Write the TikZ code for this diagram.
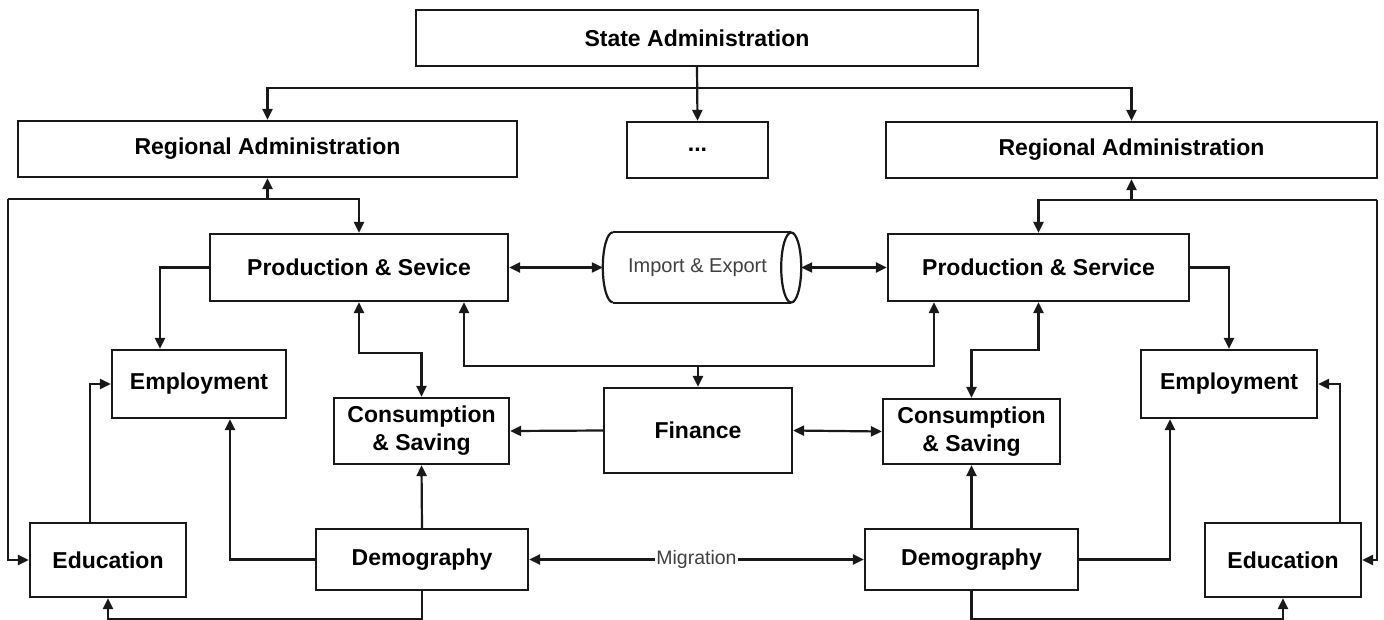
\documentclass[tikz,border=0pt]{standalone}
\usepackage{fontspec}
\setmainfont{Liberation Sans}
\usetikzlibrary{arrows.meta}
\begin{document}
\begin{tikzpicture}[x=1pt,y=-1pt,
  box/.style={draw=black!90, line width=2.2pt, fill=white, inner sep=0pt, align=center,
    font=\fontsize{23}{28}\selectfont\bfseries},
  plain/.style={line width=2.2pt, draw=black!90},
  conn/.style={plain, -{Triangle[length=11pt,width=10pt]}},
  conntwo/.style={plain, {Triangle[length=11pt,width=10pt]}-{Triangle[length=11pt,width=10pt]}},
  lbl/.style={font=\fontsize{19.5}{22}\selectfont, text=black!75}]
\useasboundingbox (0,0) rectangle (1384,619);

% nodes
\node[box, minimum width=562, minimum height=56] (sa) at (697,38) {State Administration};
\node[box, minimum width=499, minimum height=56] (raL) at (267.5,149) {Regional Administration};
\node[box, minimum width=141, minimum height=56] (dots) at (697.5,150) {...};
\node[box, minimum width=491, minimum height=56] (raR) at (1131.5,150) {Regional Administration};

\node[box, minimum width=298, minimum height=67] (pL) at (359,267.5) {Production \& Sevice};
\node[inner sep=0pt, minimum width=198, minimum height=70, lbl, font=\fontsize{20}{24}\selectfont] (ie) at (702,267.5) {\hspace*{-9pt}Import \& Export};
\node[box, minimum width=301, minimum height=67] (pR) at (1038.5,267.5) {Production \& Service};

\node[box, minimum width=174, minimum height=68] (empL) at (199,384) {Employment};
\node[box, minimum width=176, minimum height=68] (empR) at (1229,384) {Employment};
\node[box, minimum width=175, minimum height=66] (cL) at (421.5,431) {Consumption\\\& Saving};
\node[box, minimum width=177, minimum height=65] (cR) at (971.5,431.5) {Consumption\\\& Saving};
\node[box, minimum width=188, minimum height=85] (fin) at (698,430.5) {Finance};

\node[box, minimum width=156, minimum height=74] (eL) at (108,560) {Education};
\node[box, minimum width=156, minimum height=74] (eR) at (1283,560) {Education};
\node[box, minimum width=212, minimum height=61] (dL) at (422,559.5) {Demography};
\node[box, minimum width=213, minimum height=61] (dR) at (971.5,559.5) {Demography};

% cylinder outline of Import & Export
\draw[plain] ([xshift=10pt]ie.north west) -- ([xshift=-10pt]ie.north east);
\draw[plain] ([xshift=10pt]ie.south west) -- ([xshift=-10pt]ie.south east);
\draw[plain] ([xshift=10pt]ie.north west) arc[start angle=90, end angle=270, x radius=10pt, y radius=35pt];
\draw[plain] ([xshift=-10pt]ie.east) ellipse[x radius=10pt, y radius=35pt];

% state administration
\coordinate (top) at (697,88);
\draw[conn] (sa.south) -- (dots.north);
\draw[plain] (sa.south) -- (top);
\draw[conn] (top) -| (raL.north);
\draw[conn] (top) -| (raR.north);

% left bus
\coordinate (bL) at (8,199);
\draw[conn] (raL.south |- bL) -- (raL.south);
\draw[conn] (bL) -| (pL.north);
\draw[conn] (bL) |- (eL.west);

% right bus
\coordinate (bR) at (1377,200);
\draw[conn] (raR.south |- bR) -- (raR.south);
\draw[conn] (bR) -| (pR.north);
\draw[conn] (bR) |- (eR.east);

% production <-> import/export
\draw[conntwo] (pL.east) -- (ie.west);
\draw[conntwo] (ie.east) -- (pR.west);

% production -> employment
\draw[conn] (pL.west) -| ([xshift=-39pt]empL.north);
\draw[conn] (pR.east) -| (empR.north);

% education -> employment
\draw[conn] ([xshift=-18pt]eL.north) |- (empL.west);
\draw[conn] ([xshift=57pt]eR.north) |- (empR.east);

% demography links
\draw[conn] (dL.west) -| ([xshift=31pt]empL.south);
\draw[conn] (dL.north) -- (cL.south);
\draw[conn] (dL.south) -- ++(0,28) -| (eL.south);
\draw[conn] (dR.east) -| ([xshift=-59pt]empR.south);
\draw[conn] (dR.north) -- (cR.south);
\draw[conn] (dR.south) -- ++(0,28) -| (eR.south);
\draw[conntwo] (dL.east) -- node[lbl, fill=white, inner sep=1pt] {Migration} (dR.west);

% finance
\draw[conn] (fin.west) -- (cL.east);
\draw[conntwo] (fin.east) -- (cR.west);
\coordinate (fb) at ([yshift=21pt]fin.north);
\draw[conn] (fb) -- (fin.north);
\draw[conn] (fb) -| ([xshift=105pt]pL.south);
\draw[conn] (fb) -| ([xshift=-104.5pt]pR.south);

% production <-> consumption
\draw[conntwo] (pL.south) -- ++(0,51) -| (cL.north);
\draw[conntwo] (pR.south) -- ++(0,48) -| (cR.north);
\end{tikzpicture}
\end{document}
